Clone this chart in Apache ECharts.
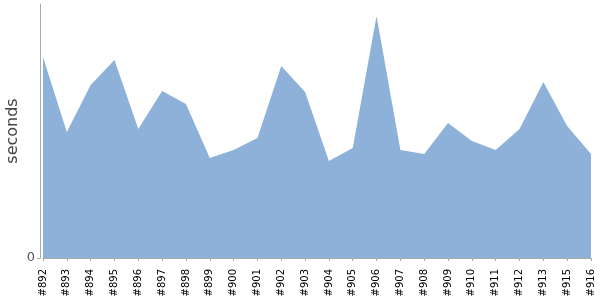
<!DOCTYPE html>
<html>
<head>
<meta charset="utf-8">
<script src="https://cdn.jsdelivr.net/npm/echarts@6/dist/echarts.min.js"></script>
<style>html,body{margin:0;padding:0;background:#fff}#c{width:600px;height:300px}</style>
</head>
<body>
<div id="c"></div>
<script>
var categories = ['#892','#893','#894','#895','#896','#897','#898','#899','#900','#901','#902','#903','#904','#905','#906','#907','#908','#909','#910','#911','#912','#913','#915','#916'];
var seconds = [201,126,173,198,129,167,154,100,108,120,192,166,97,110,242,108,104,135,117,108,129,176,132,104];
var yMax = 254;

var chart = echarts.init(document.getElementById('c'), null, {renderer:'canvas'});
chart.setOption({
  animation: false,
  grid: {left: 43, right: 9, top: 4, bottom: 42, containLabel: false, outerBoundsMode: 'none'},
  xAxis: {
    type: 'category',
    data: categories,
    boundaryGap: false,
    offset: 5,
    axisLine: {show: true, lineStyle: {color: '#aaaaaa', width: 1}},
    axisTick: {show: true, alignWithLabel: true, length: 3, lineStyle: {color: '#aaaaaa'}},
    axisLabel: {rotate: 90, interval: 0, fontSize: 10, color: '#000', fontFamily: 'DejaVu Sans', margin: 6}
  },
  yAxis: {
    type: 'value',
    min: 0,
    max: yMax,
    offset: 3,
    name: 'seconds',
    nameLocation: 'middle',
    nameRotate: 90,
    nameGap: 19,
    nameMoveOverlap: false,
    nameTextStyle: {fontSize: 16, color: '#444', fontFamily: 'DejaVu Sans'},
    splitLine: {show: false},
    axisLine: {show: true, lineStyle: {color: '#aaaaaa'}},
    axisTick: {show: true, length: 3, customValues: [0], lineStyle: {color: '#aaaaaa'}},
    axisLabel: {customValues: [0], fontSize: 13, color: '#555', fontFamily: 'DejaVu Sans', margin: 5}
  },
  series: [{
    type: 'line',
    data: seconds,
    symbol: 'none',
    lineStyle: {width: 0},
    areaStyle: {color: '#8eb1da', opacity: 1}
  }]
});
</script>
</body>
</html>
